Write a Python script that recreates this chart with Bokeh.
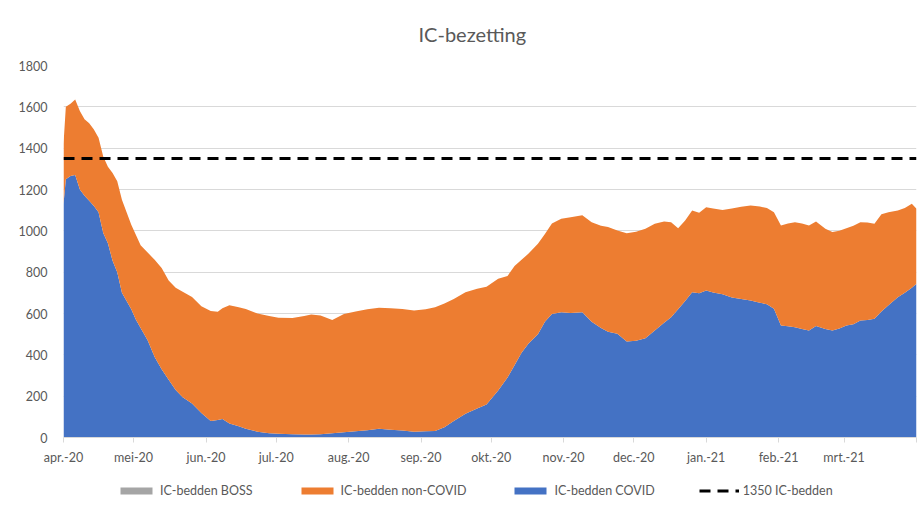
from datetime import datetime, timedelta
from bokeh.plotting import figure
from bokeh.layouts import column
from bokeh.models import (ColumnDataSource, Range1d, FixedTicker, CustomJSTickFormatter,
                          Legend, LegendItem)
from bokeh.embed import file_html
from bokeh.resources import INLINE

# ---------------- data ----------------
start_datum = datetime(2020, 4, 1)
dag = [0, 1, 3, 5, 7, 9, 11, 13, 15, 17, 19, 21, 23, 25, 27, 29, 31, 33, 36, 39,
       42, 45, 48, 51, 55, 59, 63, 66, 68, 71, 75, 78, 83, 88, 92, 98, 103, 106, 110, 115,
       120, 125, 130, 135, 140, 145, 150, 155, 159, 163, 167, 172, 177, 181, 186, 190, 193, 196, 199, 203,
       206, 209, 213, 217, 222, 226, 230, 233, 237, 241, 245, 249, 253, 257, 260, 263, 266, 269, 272, 275,
       278, 282, 286, 290, 294, 298, 301, 304, 307, 310, 313, 316, 319, 322, 326, 329, 332, 335, 338, 341,
       344, 347, 350, 353, 357, 360, 363, 365]
ic_covid = [1130, 1250, 1265, 1270, 1200, 1170, 1145, 1120, 1090, 990, 940, 855, 800, 700, 660, 620, 570, 530, 470, 390,
            330, 280, 230, 195, 165, 118, 80, 85, 90, 68, 55, 42, 28, 20, 18, 16, 15, 15, 16, 20,
            26, 30, 35, 42, 38, 34, 28, 30, 32, 50, 80, 115, 140, 160, 227, 290, 350, 410, 455, 500,
            560, 598, 606, 602, 606, 560, 530, 512, 502, 465, 468, 480, 518, 555, 582, 620, 660, 703, 698, 711,
            702, 693, 678, 670, 663, 652, 645, 623, 542, 538, 534, 525, 518, 540, 525, 518, 528, 542, 548, 566,
            568, 574, 610, 640, 679, 700, 725, 744]
ic_non_covid = [290, 350, 350, 365, 380, 370, 375, 370, 360, 370, 370, 425, 440, 450, 430, 410, 410, 400, 425, 470,
                490, 480, 495, 510, 515, 517, 532, 523, 535, 572, 575, 580, 572, 568, 562, 562, 573, 580, 574, 548,
                572, 580, 585, 586, 588, 588, 587, 590, 598, 598, 590, 588, 580, 570, 541, 492, 480, 450, 435, 437,
                425, 437, 452, 464, 469, 482, 495, 506, 500, 523, 527, 530, 516, 490, 460, 392, 390, 395, 390, 403,
                406, 408, 430, 446, 460, 466, 465, 467, 484, 497, 508, 510, 508, 505, 485, 476, 472, 470, 477, 476,
                472, 460, 470, 450, 419, 410, 406, 363]
ic_boss = [0, 0]          # BOSS beds: zero over the whole period (first and last date)
capaciteit = 1350

maand_ticks = ["2020-04-01", "2020-05-01", "2020-06-01", "2020-07-01", "2020-08-01", "2020-09-01",
               "2020-10-01", "2020-11-01", "2020-12-01", "2021-01-01", "2021-02-01", "2021-03-01",
               "2021-04-01"]
maand_labels = ["apr.-20", "mei-20", "jun.-20", "jul.-20", "aug.-20", "sep.-20", "okt.-20",
                "nov.-20", "dec.-20", "jan.-21", "feb.-21", "mrt.-21", ""]
y_ticks = [0, 200, 400, 600, 800, 1000, 1200, 1400, 1600, 1800]

titel = "IC-bezetting"
legend_labels = ["IC-bedden BOSS", "IC-bedden non-COVID", "IC-bedden COVID", "1350 IC-bedden"]

# ---------------- styling ----------------
BLUE = "#4472C4"
ORANGE = "#ED7D31"
GRAY = "#A5A5A5"
TXT = "#595959"
GRID = "#D9D9D9"
FONT = "Lato"

datums = [start_datum + timedelta(days=d) for d in dag]
source = ColumnDataSource(dict(datum=datums, covid=ic_covid, non_covid=ic_non_covid))

epoch = datetime(1970, 1, 1)
tick_ms = [(datetime.strptime(t, "%Y-%m-%d") - epoch).total_seconds() * 1000.0 for t in maand_ticks]


def draw_series(fig):
    a = fig.varea_stack(["covid", "non_covid"], x="datum", color=[BLUE, ORANGE], source=source)
    b = fig.varea(x=[datums[0], datums[-1]], y1=ic_boss, y2=ic_boss, color=GRAY)
    c = fig.line(x=[datums[0], datums[-1]], y=[capaciteit, capaciteit],
                 line_color="black", line_width=3, line_dash="11 7")
    return a, b, c


# ---------------- main chart ----------------
p = figure(width=920, height=470, output_backend="svg", toolbar_location=None,
           x_range=Range1d(datetime.strptime(maand_ticks[0], "%Y-%m-%d"),
                           datetime.strptime(maand_ticks[-1], "%Y-%m-%d")),
           y_range=Range1d(y_ticks[0], y_ticks[-1]),
           x_axis_type="datetime",
           min_border_left=63, min_border_right=4, min_border_top=65, min_border_bottom=33)

p.title.text = titel
p.title.align = "left"
p.title.text_font = FONT
p.title.text_font_size = "20px"
p.title.text_font_style = "normal"
p.title.text_color = TXT
p.title.offset = 355
p.title.standoff = 39

p.outline_line_color = None
p.background_fill_color = "white"
p.border_fill_color = "white"

areas, boss, cap_line = draw_series(p)

p.xgrid.grid_line_color = None
p.ygrid.grid_line_color = GRID
p.ygrid.ticker = FixedTicker(ticks=y_ticks)

p.yaxis.ticker = FixedTicker(ticks=y_ticks)
p.yaxis.axis_line_color = None
p.yaxis.major_tick_line_color = None
p.yaxis.minor_tick_line_color = None
p.yaxis.major_label_text_font = FONT
p.yaxis.major_label_text_font_size = "12.5px"
p.yaxis.major_label_text_color = TXT
p.yaxis.major_label_standoff = 10

p.xaxis.ticker = FixedTicker(ticks=tick_ms)
p.xaxis.formatter = CustomJSTickFormatter(args=dict(tvals=tick_ms, tlabels=maand_labels), code="""
    let best = 0;
    for (let k = 0; k < tvals.length; k++) {
        if (Math.abs(tvals[k] - tick) < Math.abs(tvals[best] - tick)) best = k;
    }
    return tlabels[best];
""")
p.xaxis.axis_line_color = GRID
p.xaxis.major_tick_line_color = GRID
p.xaxis.major_tick_in = 0
p.xaxis.major_tick_out = 5
p.xaxis.minor_tick_line_color = None
p.xaxis.major_label_text_font = FONT
p.xaxis.major_label_text_font_size = "12.5px"
p.xaxis.major_label_text_color = TXT
p.xaxis.major_label_standoff = 7

# ---------------- legend strip (glyphs lie outside its ranges; only the legend shows) ----------------
lg = figure(width=920, height=40, output_backend="svg", toolbar_location=None,
            x_range=Range1d(0, 1), y_range=Range1d(0, 1),
            x_axis_location=None, y_axis_location=None,
            min_border_left=0, min_border_right=0, min_border_top=0, min_border_bottom=0)
lg.grid.visible = False
lg.outline_line_color = None
lg.background_fill_color = "white"
lg.border_fill_color = "white"
l_areas, l_boss, l_cap = draw_series(lg)

legend = Legend(items=[
    LegendItem(label=legend_labels[0], renderers=[l_boss]),
    LegendItem(label=legend_labels[1], renderers=[l_areas[1]]),
    LegendItem(label=legend_labels[2], renderers=[l_areas[0]]),
    LegendItem(label=legend_labels[3], renderers=[l_cap]),
], orientation="horizontal", location=(53, 12))
legend.label_text_font = FONT
legend.label_text_font_size = "12.5px"
legend.label_text_color = TXT
legend.glyph_width = 40
legend.glyph_height = 9
legend.spacing = 44
legend.label_standoff = 4
legend.border_line_color = None
legend.background_fill_alpha = 0
legend.padding = 4
legend.margin = 0
lg.add_layout(legend)

layout = column(p, lg, spacing=0)
open("out.html", "w").write(file_html(layout, INLINE))
